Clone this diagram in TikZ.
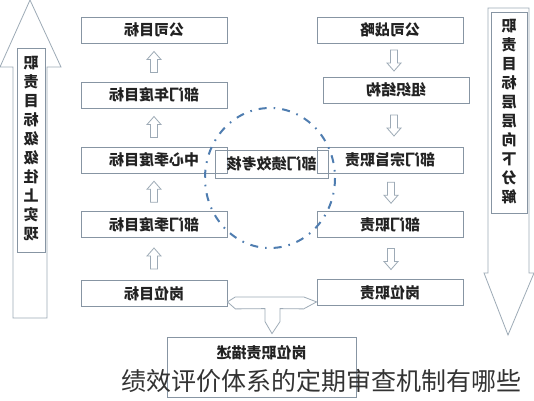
\documentclass[tikz,border=0pt]{standalone}
\usepackage{fontspec}
\usepackage{graphicx}
\setmainfont{Noto Sans CJK SC}
\usetikzlibrary{calc}
\newcommand\mirr[1]{\reflectbox{#1}}
\definecolor{boxc}{HTML}{8795A3}
\definecolor{arrc}{HTML}{9DAAB6}
\definecolor{txt}{HTML}{222222}
\definecolor{circ}{HTML}{4F7DB0}
\definecolor{capc}{HTML}{333333}
\begin{document}
\begin{tikzpicture}[x=1pt,y=-1pt,
  box/.style={draw=boxc, line width=0.8pt, minimum width=146pt, minimum height=26pt, inner sep=0pt,
    font=\fontsize{15}{15}\selectfont\bfseries, text=txt},
  hol/.style={draw=arrc, line width=0.8pt, fill=white, line join=miter},
  inbox/.style={draw=boxc, line width=0.8pt},
  vtext/.style={align=center, font=\fontsize{15}{19}\selectfont\bfseries, text=txt, inner sep=0pt}]
\useasboundingbox (0,0) rectangle (534,400);
\fill[white] (0,0) rectangle (534,400);

% big left arrow (up)
\draw[hol] (13,318) -- (13,67) -- (0,67) -- (30,0) -- (61,67) -- (47,67) -- (47,318) -- cycle;
\draw[inbox] (17,48) rectangle (45,252);
\node[vtext] (lv) at (31,149) {\mirr{职}\\\mirr{责}\\\mirr{目}\\\mirr{标}\\\mirr{级}\\\mirr{级}\\\mirr{往}\\\mirr{上}\\\mirr{实}\\\mirr{现}};

% big right arrow (down)
\draw[hol] (488,8) -- (529,8) -- (529,273) -- (534,273) -- (508,335) -- (484,273) -- (488,273) -- cycle;
\draw[inbox] (491,12) rectangle (527,213);
\node[vtext] (rv) at (509,112) {\mirr{职}\\\mirr{责}\\\mirr{目}\\\mirr{标}\\\mirr{层}\\\mirr{层}\\\mirr{向}\\\mirr{下}\\\mirr{分}\\\mirr{解}};

% left column
\node[box] (l1) at (154,30) {\mirr{公司目标}};
\node[box] (l2) at (154,95) {\mirr{部门年度目标}};
\node[box] (l3) at (154,160) {\mirr{中心季度目标}};
\node[box] (l4) at (154,224.5) {\mirr{部门季度目标}};
\node[box] (l5) at (154,293.5) {\mirr{岗位目标}};

% right column
\node[box] (r1) at (390,30) {\mirr{公司战略}};
\node[box] (r2) at (396,90) {\mirr{组织结构}};
\node[box] (r3) at (390,160) {\mirr{部门宗旨职责}};
\node[box] (r4) at (390,224.5) {\mirr{部门职责}};
\node[box] (r5) at (390,292.5) {\mirr{岗位职责}};

% small up arrows
\foreach \a/\b in {l1/l2, l2/l3, l3/l4, l4/l5} {
  \coordinate (u\a) at ($(\a.south)!0.5!(\b.north)$);
  \draw[hol, shift={(u\a)}] (-3.5,10) -- (-3.5,-3) -- (-7,-3) -- (0,-11) -- (7,-3) -- (3.5,-3) -- (3.5,10) -- cycle;
}
% small down arrows
\foreach \a/\b in {r1/r2, r2/r3, r3/r4, r4/r5} {
  \coordinate (d\a) at ($(\a.south)!0.5!(\b.north)$);
  \draw[hol, shift={($(d\a)+(1,0)$)}] (-3.5,-10) -- (-3.5,3) -- (-7,3) -- (0,11) -- (7,3) -- (3.5,3) -- (3.5,-10) -- cycle;
}

% bottom box
\node[draw=boxc, line width=0.8pt, minimum width=189pt, minimum height=60pt, inner sep=0pt] (bb) at (261.5,367) {};
\node[font=\fontsize{15}{15}\selectfont\bfseries, text=txt, inner sep=0pt] (bt) at ($(bb.north)+(0,16)$) {\mirr{岗位职责描述}};

% T connector
\coordinate (tl) at ($(l5.south east)+(0,-5)$);
\coordinate (tr) at ($(r5.south west)+(0,-4)$);
\coordinate (tb) at ($(bb.north)+(10.5,-3)$);
\draw[hol] (tl) -- ++(8,-5) -- ($(tr)+(-13,-5)$) -- (tr) -- ($(tr)+(-13,7)$) -- ($(tb)+(8,-25)$) -- ($(tb)+(8,-12)$) -- (tb) -- ($(tb)+(-7,-12)$) -- ($(tb)+(-7,-25)$) -- ($(tl)+(8,7)$) -- cycle;

% performance review box and circle
\node[draw=boxc, line width=0.8pt, minimum width=113pt, minimum height=28pt, inner sep=0pt,
  font=\fontsize{15}{15}\selectfont\bfseries, text=txt] (pk) at (271.5,164) {\mirr{部门绩效考核}};
\draw[circ, line width=2pt, dash pattern=on 8pt off 7pt on 1.6pt off 7pt] (270,178) ellipse [x radius=65, y radius=70];

% caption
\node[font=\fontsize{25}{25}\selectfont, text=capc, inner sep=0pt] (cap) at (321,381) {绩效评价体系的定期审查机制有哪些};
\end{tikzpicture}
\end{document}
